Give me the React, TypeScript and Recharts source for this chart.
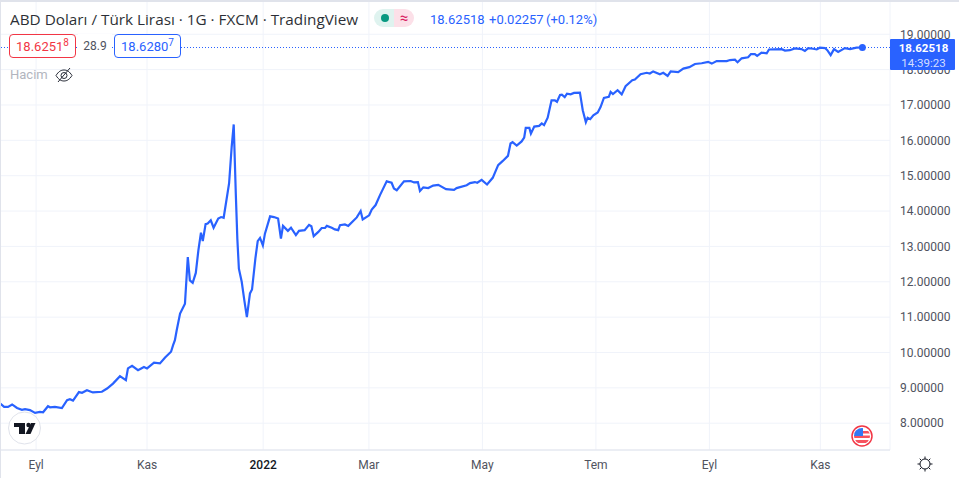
import { LineChart, Line, XAxis, YAxis, CartesianGrid, ReferenceLine, ReferenceDot } from 'recharts';

// trading bars counted from the left edge of the chart, with the USD/TRY close
const bars = [
  0, 1.6, 3.1, 4.7, 6.6, 8.5, 9.7, 11.6, 13.6, 15.5, 16.7, 18.6, 19.4, 21.3, 24, 26, 27.1, 28.3, 30.6, 31.8,
  33.7, 36, 39.5, 41.5, 43.8, 46.5, 48.8, 49.6, 51.2, 53.5, 55.8, 57, 59.7, 62, 64, 66.3, 67.1, 67.8, 68.5, 69.8,
  71.7, 72.8, 73.6, 74.7, 75.9, 76.9, 77.9, 78.6, 79.7, 80.5, 81.7, 82.8, 84.6, 85.7, 86.7, 88.8, 89.8, 90.6, 91.4, 92,
  92.6, 93.7, 94.7, 95.7, 96.9, 97.7, 99, 99.9, 100.8, 101.9, 102.7, 104.7, 106.2, 107.8, 108.9, 109.7, 111.6, 112.8, 114.7, 115.9,
  118.1, 119.8, 120.7, 121.6, 123.4, 124.7, 126, 126.7, 128.6, 129.8, 131.1, 131.8, 133.7, 135, 138.3, 139.8, 140.6, 143.1, 144.1, 145.6,
  147.3, 149.9, 151.8, 152.7, 153.8, 156.6, 159.2, 160.5, 162, 162.8, 164.1, 166, 167.9, 169.9, 172.9, 176, 177, 180.9, 182.2, 184.1,
  185, 186.7, 188.8, 191, 193.1, 194.8, 196.9, 197.9, 198.7, 200.3, 202.2, 203.2, 203.8, 205.2, 205.8, 207.1, 209, 210, 210.9, 212.3,
  213.8, 215.1, 215.9, 217.1, 217.8, 218.9, 219.8, 221.2, 222.5, 224.8, 225.9, 227.1, 227.8, 228.8, 230, 231.7, 232.8, 234.1, 236, 236.7,
  237.6, 239.4, 241, 242.5, 245.1, 246.1, 248.3, 250.7, 251.9, 253.2, 255.8, 257.1, 258.8, 260, 262.9, 264.9, 267.2, 269.4, 272, 274.5,
  275.9, 277.8, 281.7, 283, 284.9, 285.9, 287.5, 290, 291.1, 292.6, 293.5, 295.2, 297.2, 298.1, 303, 304.3, 306.2, 308.1, 310.7, 312,
  313.3, 315.2, 316.6, 317.8, 319.8, 320.7, 322, 323.3, 324.9, 327.5, 329.5, 332, 334.3,
];
const closes = [
  8.56, 8.46, 8.46, 8.53, 8.43, 8.38, 8.4, 8.37, 8.29, 8.32, 8.31, 8.48, 8.45, 8.46, 8.43, 8.65, 8.68, 8.64, 8.88, 8.86,
  8.93, 8.87, 8.89, 8.98, 9.12, 9.33, 9.22, 9.55, 9.62, 9.5, 9.59, 9.55, 9.71, 9.69, 9.86, 10.02, 10.21, 10.35, 10.63, 11.1,
  11.38, 12.7, 12.04, 11.97, 12.25, 12.89, 13.39, 13.15, 13.63, 13.65, 13.74, 13.53, 13.79, 13.83, 13.81, 14.78, 15.81, 16.45, 14.5, 13.22,
  12.37, 12, 11.48, 11, 11.67, 11.78, 12.66, 13.15, 13.24, 13.03, 13.36, 13.85, 13.83, 13.79, 13.22, 13.58, 13.44, 13.53, 13.32, 13.44,
  13.46, 13.61, 13.57, 13.29, 13.41, 13.52, 13.52, 13.58, 13.53, 13.48, 13.46, 13.6, 13.62, 13.58, 13.82, 14, 13.76, 13.88, 14.04, 14.17,
  14.45, 14.84, 14.8, 14.64, 14.59, 14.84, 14.85, 14.81, 14.82, 14.57, 14.67, 14.65, 14.72, 14.74, 14.62, 14.6, 14.65, 14.73, 14.79, 14.82,
  14.8, 14.88, 14.75, 14.94, 15.3, 15.41, 15.56, 15.91, 15.95, 15.85, 15.97, 16.08, 16.35, 16.35, 16.19, 16.39, 16.41, 16.48, 16.43, 16.64,
  17.13, 17.13, 17.09, 17.28, 17.29, 17.22, 17.32, 17.3, 17.34, 17.35, 16.85, 16.51, 16.64, 16.6, 16.71, 16.79, 16.94, 17.2, 17.23, 17.37,
  17.31, 17.42, 17.3, 17.53, 17.7, 17.72, 17.87, 17.91, 17.89, 17.95, 17.87, 17.91, 17.82, 17.95, 17.93, 18.03, 18.07, 18.16, 18.18, 18.22,
  18.17, 18.24, 18.24, 18.27, 18.28, 18.21, 18.32, 18.35, 18.44, 18.44, 18.39, 18.48, 18.46, 18.57, 18.58, 18.54, 18.55, 18.6, 18.58, 18.53,
  18.61, 18.59, 18.57, 18.62, 18.61, 18.55, 18.41, 18.58, 18.5, 18.61, 18.58, 18.62, 18.62518,
];
const monthTicks = [14, 57, 102, 143, 187, 231, 275, 318];
const monthLabels = ['Eyl', 'Kas', '2022', 'Mar', 'May', 'Tem', 'Eyl', 'Kas'];
const priceTicks = [8, 9, 10, 11, 12, 13, 14, 15, 16, 17, 18, 19];

const data = bars.map((bar, i) => ({ bar, close: closes[i] }));
const lastBar = bars[bars.length - 1];
const lastClose = closes[closes.length - 1];

const BLUE = '#2962ff';
const GRID = '#f0f3fa';
const BORDER = '#e0e3eb';
const TEXT = '#131722';
const FONT = 'Roboto, sans-serif';

const MonthTick = ({ x, y, index }: any) => {
  const label = monthLabels[index] ?? '';
  const isYear = label === '2022';
  return (
    <text
      x={x}
      y={y + 11}
      textAnchor="middle"
      fontFamily={FONT}
      fontSize={12}
      fontWeight={isYear ? 500 : 400}
      fill={isYear ? TEXT : '#50535e'}
    >
      {label}
    </text>
  );
};

const box = (left: number, color: string) => ({
  position: 'absolute' as const,
  left,
  top: 34,
  width: 65,
  height: 22,
  border: `1px solid ${color}`,
  borderRadius: 4,
  background: '#fff',
  color,
  fontSize: 13,
  lineHeight: '23px',
  textAlign: 'center' as const,
});

export default function App() {
  return (
    <div
      style={{
        position: 'fixed',
        left: 0,
        top: 0,
        width: 959,
        height: 478,
        overflow: 'hidden',
        background: '#fff',
        fontFamily: FONT,
      }}
    >
      <LineChart width={959} height={478} data={data} margin={{ top: 0, right: 0, bottom: 0, left: 0 }}>
        <CartesianGrid stroke={GRID} strokeWidth={1} />
        <XAxis
          dataKey="bar"
          type="number"
          domain={[0, 345]}
          ticks={monthTicks}
          interval={0}
          height={28}
          tickLine={false}
          axisLine={{ stroke: BORDER }}
          tick={<MonthTick />}
        />
        <YAxis
          orientation="right"
          type="number"
          domain={[7.242, 19.969]}
          ticks={priceTicks}
          interval={0}
          width={69}
          axisLine={false}
          tickLine={false}
          tickSize={0}
          tickMargin={10}
          tickFormatter={(v: number) => v.toFixed(5)}
          tick={{ fontFamily: FONT, fontSize: 12, fill: '#50535e' }}
        />
        <ReferenceLine y={lastClose} stroke={BLUE} strokeWidth={1} strokeDasharray="1 2" />
        <Line dataKey="close" stroke={BLUE} strokeWidth={2.2} dot={false} type="linear" isAnimationActive={false} />
        <ReferenceDot x={lastBar} y={lastClose} r={3.5} fill={BLUE} stroke={BLUE} strokeWidth={0} />
      </LineChart>

      {/* chart frame */}
      <div style={{ position: 'absolute', left: 0, top: 0, width: 959, height: 2, background: BORDER }} />
      <div style={{ position: 'absolute', left: 0, top: 0, width: 1, height: 478, background: BORDER }} />

      {/* legend */}
      <div style={{ position: 'absolute', left: 10, top: 10, fontFamily: '"Open Sans", sans-serif', fontSize: 15.3, lineHeight: '18px', color: TEXT, whiteSpace: 'nowrap', opacity: 0.9 }}>
        ABD Doları / Türk Lirası · 1G · FXCM · TradingView
      </div>
      <div style={{ position: 'absolute', left: 374, top: 9, width: 40, height: 18, borderRadius: 9, overflow: 'hidden', display: 'flex' }}>
        <div style={{ width: 20, background: '#dff3ef', position: 'relative' }}>
          <div style={{ position: 'absolute', left: 7, top: 5, width: 8, height: 8, borderRadius: 4, background: '#089981' }} />
        </div>
        <div style={{ width: 20, background: '#fce0e8', color: '#d81b60', fontSize: 15, lineHeight: '18px', textAlign: 'center' }}>≈</div>
      </div>
      <div style={{ position: 'absolute', left: 430, top: 12, fontSize: 13, lineHeight: '16px', color: BLUE, whiteSpace: 'nowrap' }}>
        18.62518
        <span style={{ position: 'absolute', left: 59 }}>+0.02257</span>
        <span style={{ position: 'absolute', left: 116 }}>(+0.12%)</span>
      </div>
      <div style={box(9, '#f23645')}>
        18.6251<sup style={{ fontSize: 10, lineHeight: 0 }}>8</sup>
      </div>
      <div style={{ position: 'absolute', left: 78, top: 34, width: 34, height: 24, background: '#fff', color: '#50535e', fontSize: 12, lineHeight: '24px', textAlign: 'center' }}>
        28.9
      </div>
      <div style={box(114, BLUE)}>
        18.6280<sup style={{ fontSize: 10, lineHeight: 0 }}>7</sup>
      </div>
      <div style={{ position: 'absolute', left: 10, top: 67, fontSize: 13, lineHeight: '16px', color: '#b2b5be' }}>Hacim</div>
      <svg style={{ position: 'absolute', left: 55, top: 66 }} width={18} height={18} viewBox="0 0 18 18" fill="none" stroke="#2a2e39" strokeWidth={1}>
        <path d="M1 9.5C3.5 5.5 6 4 9 4s5.500 1.500 8 5.500c-2.500 4-5 5.500-8 5.500s-5.500-1.500-8-5.500z" />
        <circle cx={9} cy={9.500} r={3} />
        <path d="M3 16L15 2" />
      </svg>

      {/* last price label */}
      <div
        style={{
          position: 'absolute',
          left: 890,
          top: 39,
          width: 63,
          height: 29,
          paddingLeft: 2,
          paddingTop: 2,
          background: BLUE,
          borderRadius: 1,
          textAlign: 'center',
          fontSize: 11.5,
          lineHeight: '15px',
          color: '#fff',
        }}
      >
        <div style={{ fontWeight: 700 }}>18.62518</div>
        <div style={{ color: '#d4deff' }}>14:39:23</div>
      </div>

      {/* TradingView badge */}
      <svg style={{ position: 'absolute', left: 7, top: 411 }} width={35} height={35} viewBox="0 0 35 35">
        <circle cx={17.500} cy={17} r={16} fill="#fff" stroke={BORDER} strokeWidth={1} />
        <path d="M7 12h11v11h-6v-7H7z" fill="#131722" />
        <circle cx={21.500} cy={14} r={2.200} fill="#131722" />
        <path d="M24 12h4.500l-5 11h-5z" fill="#131722" />
      </svg>

      {/* USD flag */}
      <svg style={{ position: 'absolute', left: 851, top: 425 }} width={22} height={22} viewBox="0 0 22 22">
        <defs>
          <clipPath id="flag">
            <circle cx={11} cy={11} r={8} />
          </clipPath>
        </defs>
        <circle cx={11} cy={11} r={10} fill="#fff" stroke="#f23645" strokeWidth={1.500} />
        <g clipPath="url(#flag)">
          <rect x={3} y={3} width={16} height={16} fill="#fff" />
          <rect x={3} y={6} width={16} height={2.500} fill="#f7525f" />
          <rect x={3} y={10.500} width={16} height={2.500} fill="#f7525f" />
          <rect x={3} y={15} width={16} height={3} fill="#f7525f" />
          <rect x={3} y={3} width={9} height={8} fill="#3179f5" />
        </g>
      </svg>

      {/* settings icon */}
      <svg style={{ position: 'absolute', left: 916, top: 455 }} width={18} height={18} viewBox="0 0 18 18" fill="none" stroke="#131722" strokeWidth={1}>
        <circle cx={9} cy={9} r={5} />
        <path d="M9 1.500v2.500M9 14v2.500M1.500 9H4M14 9h2.500M3.700 3.700l1.800 1.800M12.500 12.500l1.800 1.800M3.700 14.300l1.800-1.800M12.500 5.500l1.800-1.800" />
      </svg>
    </div>
  );
}
